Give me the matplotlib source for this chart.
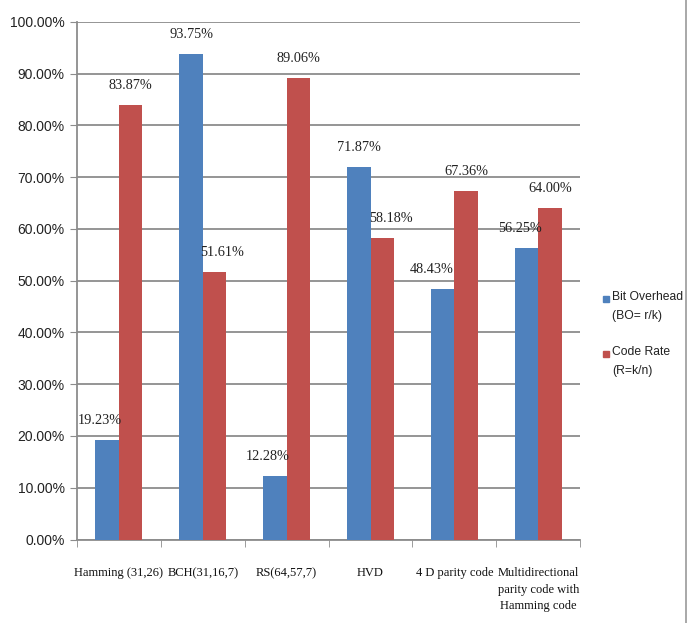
import matplotlib.pyplot as plt
import numpy as np
from matplotlib.lines import Line2D
from matplotlib.patches import Rectangle

categories = ['Hamming (31,26)', 'BCH(31,16,7)', 'RS(64,57,7)', 'HVD',
              '4 D parity code', 'Multidirectional\nparity code with\nHamming code']
bit_overhead = [19.23, 93.75, 12.28, 71.87, 48.43, 56.25]
code_rate = [83.87, 51.61, 89.06, 58.18, 67.36, 64.00]
series_names = ['Bit Overhead\n(BO= r/k)', 'Code Rate\n(R=k/n)']
y_ticks = np.arange(0, 101, 10)

blue = '#4F81BD'
red = '#C0504D'
grid_col = '#8C8C8C'

# horizontal nudges (pixels) for the value labels that would hit a neighbour bar
blue_nudge = [-7, 0, -7, 0, -11, -7]
red_nudge = [0, 8, 0, 9, 0, 0]


def main():
    fig = plt.figure(figsize=(6.94, 6.23), dpi=100)
    ax = fig.add_axes([0.111, 0.134, 0.725, 0.831])

    x = np.arange(len(categories))
    w = 0.28
    b1 = ax.bar(x - w / 2, bit_overhead, w, color=blue, zorder=3)
    b2 = ax.bar(x + w / 2, code_rate, w, color=red, zorder=3)

    for bars, vals, nudge in ((b1, bit_overhead, blue_nudge), (b2, code_rate, red_nudge)):
        for rect, v, dx in zip(bars, vals, nudge):
            ax.annotate(f'{v:.2f}%', (rect.get_x() + rect.get_width() / 2, v),
                        xytext=(dx * 0.72, 14), textcoords='offset points',
                        ha='center', va='center', fontsize=10.3,
                        family='Liberation Serif', color='#222222')

    ax.set_xlim(-0.5, len(categories) - 0.5)
    ax.set_ylim(0, 100)
    ax.set_yticks(y_ticks)
    ax.set_yticklabels([f'{t:.2f}%' for t in y_ticks], family='Liberation Sans',
                       fontsize=10, color='#222222')
    ax.yaxis.grid(True, color=grid_col, linewidth=1.3, zorder=0)

    ax.set_xticks(x)
    ax.set_xticklabels(categories, family='Liberation Serif', fontsize=9,
                       color='#111111', linespacing=1.5, va='top')
    ax.tick_params(axis='x', length=0, pad=20)
    ax.set_xticks(np.arange(-0.5, len(categories), 1), minor=True)
    ax.tick_params(axis='x', which='minor', length=5, color=grid_col, direction='out')
    ax.tick_params(axis='y', length=5, color=grid_col, direction='out', pad=4)

    for s in ['top', 'right']:
        ax.spines[s].set_visible(False)
    for s in ['left', 'bottom']:
        ax.spines[s].set_color(grid_col)
        ax.spines[s].set_linewidth(1.3)

    # legend drawn by hand: square next to the first line of each entry
    W, H = 694, 623
    for (ytop, name, col) in ((299, series_names[0], blue), (354, series_names[1], red)):
        fig.add_artist(Rectangle((603 / W, 1 - (ytop + 3) / H), 6 / W, 6 / H,
                                 color=col, transform=fig.transFigure))
        fig.text(612 / W, 1 - (ytop - 8) / H, name, family='Liberation Sans',
                 fontsize=8.7, va='top', ha='left', linespacing=1.75, color='#222222')

    # border line at the right edge
    fig.add_artist(Line2D([0.989, 0.989], [0, 1], color='#9A9A9A', linewidth=1.2,
                          transform=fig.transFigure))

    fig.savefig('out.png', dpi=100, facecolor='white')


if __name__ == '__main__':
    main()
